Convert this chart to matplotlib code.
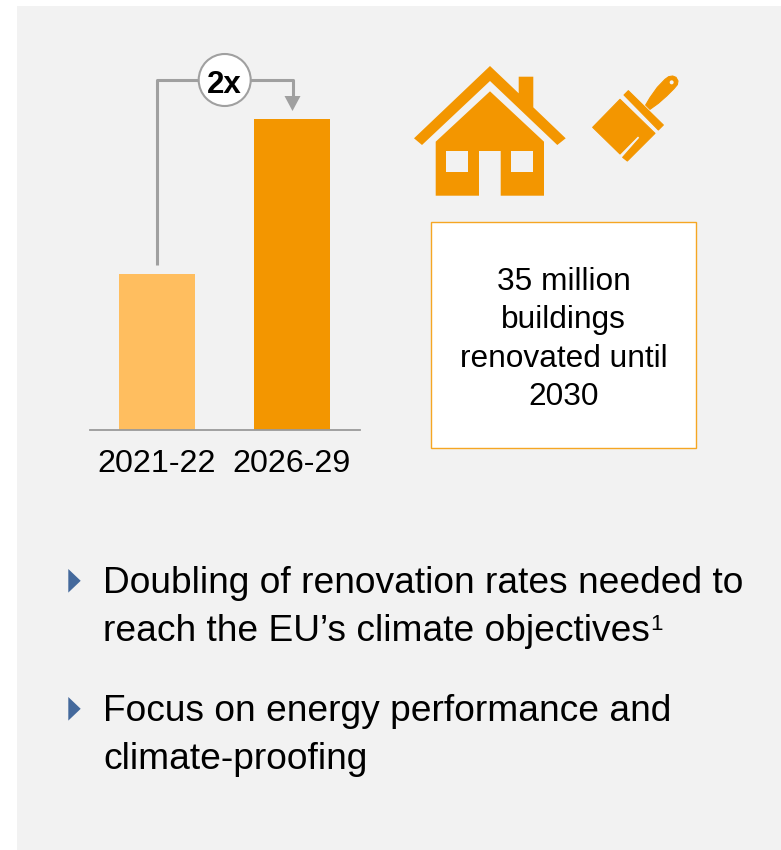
import matplotlib
matplotlib.use('Agg')
import matplotlib.pyplot as plt
from matplotlib.patches import Circle, Polygon, Rectangle

plt.rcParams['font.family'] = ['Liberation Sans', 'DejaVu Sans']

periods = ['2021-22', '2026-29']
renovation_index = [1.0, 2.0]
bar_colors = ['#FFBE5F', '#F39600']
multiple_label = '2x'
box_lines = ['35 million', 'buildings', 'renovated until', '2030']
bullet_lines = [
    ['Doubling of renovation rates needed to', 'reach the EU\u2019s climate objectives'],
    ['Focus on energy performance and', 'climate-proofing'],
]

ORANGE = '#F39600'
GREY = '#A0A0A0'
INK = '#000000'
W, H = 781, 850

fig = plt.figure(figsize=(W / 100, H / 100), dpi=100, facecolor='white')

# page layer, in pixels from the top left
page = fig.add_axes([0, 0, 1, 1])
page.set_xlim(0, W)
page.set_ylim(H, 0)
page.axis('off')
page.add_patch(Rectangle((17, 6), W - 17, H - 6, fc='#F2F2F2', ec='none'))

# bars
left, right, base, top = 89.5, 360, 430, 119
ax = fig.add_axes([left / W, 1 - base / H, (right - left) / W, (base - top) / H])
ax.patch.set_alpha(0)
ax.bar(range(len(periods)), renovation_index, width=0.563, color=bar_colors)
ax.set_xlim(-0.5, 1.504)
ax.set_ylim(0, max(renovation_index))
ax.set_xticks(range(len(periods)))
ax.set_xticklabels(periods, fontsize=23.2, color=INK)
ax.tick_params(axis='x', length=0, pad=14)
ax.set_yticks([])
for side in ['top', 'left', 'right']:
    ax.spines[side].set_visible(False)
ax.spines['bottom'].set_color('#9A9A9A')
ax.spines['bottom'].set_linewidth(1.3)

# connector from the first bar to the second
page.plot([157, 157, 292.5, 292.5], [265, 79.5, 79.5, 98], color=GREY, lw=2.2,
          solid_joinstyle='round', solid_capstyle='butt')
page.add_patch(Polygon([(284.5, 96), (300.5, 96), (292.5, 111)], fc=GREY, ec='none'))
page.add_patch(Circle((224.7, 80), 26, fc='white', ec=GREY, lw=1.5, zorder=3))
page.text(224.7, 81, multiple_label, fontsize=22.5, fontweight='bold', ha='center',
          va='center_baseline', color=INK, zorder=4)

# house icon
house_roof = [(414, 138.3), (422, 145), (490, 81), (557.3, 145), (565.7, 138.3), (533.3, 107.3),
              (533.3, 76.7), (518.7, 76.7), (518.7, 93.3), (490, 66)]
house_body = [(490, 91.3), (544, 141.7), (544, 195.7), (500.7, 195.7), (500.7, 151), (479, 151),
              (479, 195.7), (435.7, 195.7), (435.7, 141.7)]
page.add_patch(Polygon(house_roof, fc=ORANGE, ec='none'))
page.add_patch(Polygon(house_body, fc=ORANGE, ec='none'))
for wx in [446.3, 511.3]:
    page.add_patch(Rectangle((wx, 151), 22, 21.3, fc='#F2F2F2', ec='none'))

# paint brush icon, outlined at 3x around (400, 50)
def brush_pts(pts):
    return [(400 + x / 3, 50 + y / 3) for x, y in pts]

brush_head = [(578, 232), (660, 148), (765, 250), (682, 333), (668, 322), (720, 263), (714, 257), (660, 312)]
brush_band = [(672, 135), (685, 122), (790, 225), (775, 240)]
brush_handle = [(737, 165), (750, 143), (772, 112), (795, 88), (806, 80), (818, 78), (828, 82), (834, 93),
                (832, 104), (822, 116), (800, 138), (775, 160), (750, 178)]
for shape in [brush_head, brush_band, brush_handle]:
    page.add_patch(Polygon(brush_pts(shape), fc=ORANGE, ec=ORANGE, lw=0.8, joinstyle='round'))
page.add_patch(Circle((400 + 815 / 3, 50 + 97 / 3), 2, fc='#F2F2F2', ec='none'))

# text box
page.add_patch(Rectangle((431, 222), 265, 226, fc='white', ec='#F5A623', lw=1.0))
for line, y in zip(box_lines, [290, 328, 367, 405]):
    page.text(563.5, y, line, fontsize=22.8, ha='center', va='baseline', color=INK)

# bullets
for y0 in [569, 697]:
    page.add_patch(Polygon([(68.3, y0), (80.7, y0 + 11.8), (68.3, y0 + 23.6)], fc='#44699C', ec='none'))
for lines, ys in zip(bullet_lines, [(593, 641), (721, 769)]):
    for line, y in zip(lines, ys):
        page.text(103, y, line, fontsize=26.7, ha='left', va='baseline', color=INK)

# footnote marker follows the end of the objectives line
fig.canvas.draw()
end = page.texts[-3].get_window_extent()
page.text(end.x1 + 0.5, 630, '1', fontsize=16, ha='left', va='baseline', color=INK)

fig.savefig('out.png', dpi=100, facecolor='white')
